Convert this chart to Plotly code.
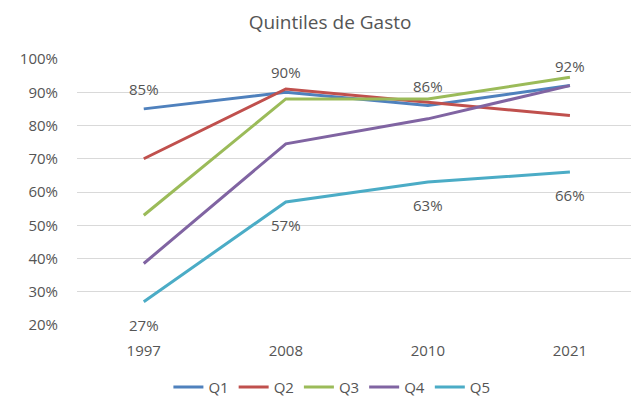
import plotly.graph_objects as go

# Survey years and share (%) per expenditure quintile
years = ["1997", "2008", "2010", "2021"]
q1 = [85, 90, 86, 92]
q2 = [70, 91, 87, 83]
q3 = [53, 88, 88, 94.5]
q4 = [38.5, 74.5, 82, 92]
q5 = [27, 57, 63, 66]

series = [
    ("Q1", q1, "#4F81BD"),
    ("Q2", q2, "#C0504D"),
    ("Q3", q3, "#9BBB59"),
    ("Q4", q4, "#8064A2"),
    ("Q5", q5, "#4BACC6"),
]

FONT = "Open Sans"
TEXT = "#555555"

fig = go.Figure()
for name, vals, color in series:
    fig.add_trace(go.Scatter(
        x=years, y=vals, name=name, mode="lines",
        line=dict(color=color, width=3),
    ))

# Value labels: Q1 above its points, Q5 below its points
# (category axis: annotations are placed by category index)
for i, v in enumerate(q1):
    fig.add_annotation(x=i, y=v, text=f"{round(v)}%", showarrow=False,
                       yshift=20, font=dict(family=FONT, size=15, color=TEXT))
for i, v in enumerate(q5):
    fig.add_annotation(x=i, y=v, text=f"{round(v)}%", showarrow=False,
                       yshift=-23, font=dict(family=FONT, size=15, color=TEXT))

fig.update_layout(
    width=631, height=402,
    paper_bgcolor="white", plot_bgcolor="white",
    margin=dict(l=77, r=0, t=59, b=77),
    font=dict(family=FONT, size=15, color=TEXT),
    title=dict(text="Quintiles de Gasto", x=0.523, xref="container",
               y=0.945, yref="container", xanchor="center", yanchor="middle",
               font=dict(family=FONT, size=19, color=TEXT)),
    xaxis=dict(type="category", range=[-0.47, 3.43], showgrid=False,
               zeroline=False, showline=False, ticks="",
               ticklabelstandoff=15, tickfont=dict(size=15, color=TEXT)),
    yaxis=dict(range=[20, 100], dtick=10, ticksuffix="%",
               showgrid=True, gridcolor="#D9D9D9", gridwidth=1,
               zeroline=False, showline=False, ticks="",
               ticklabelstandoff=18, tickfont=dict(size=15, color=TEXT)),
    legend=dict(orientation="h", x=0.526, xref="container", xanchor="center",
                y=0.037, yref="container", yanchor="middle",
                font=dict(family=FONT, size=15, color=TEXT),
                itemwidth=30, tracegroupgap=0),
    showlegend=True,
)

fig.write_html("out.html")
